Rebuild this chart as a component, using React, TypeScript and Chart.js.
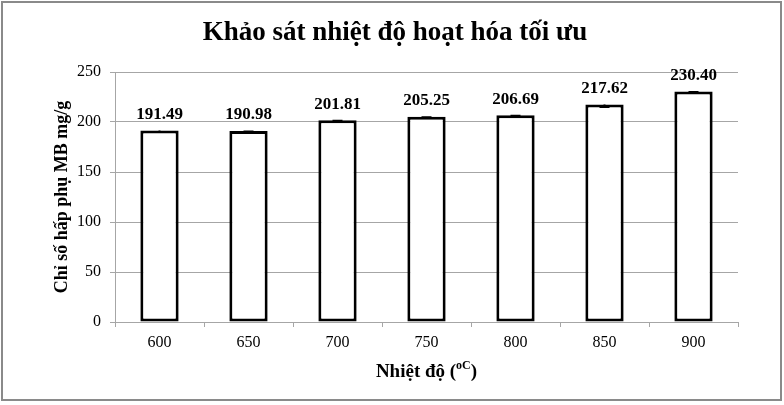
import React, { useEffect, useRef } from "react";
import { Chart, registerables } from "chart.js";

Chart.register(...registerables);

const categories = ["600", "650", "700", "750", "800", "850", "900"];
const values = [191.49, 190.98, 201.81, 205.25, 206.69, 217.62, 230.4];
const errors = [1.5, 0.5, 0.5, 0.5, 0.5, 2.5, 0.5];
const yMin = 0;
const yMax = 250;
const yStep = 50;
const titleText = "Khảo sát nhiệt độ hoạt hóa tối ưu";
const yTitle = "Chỉ số hấp phụ MB mg/g";
const xTitleMain = "Nhiệt độ (";
const xTitleSup = "oC";
const xTitleEnd = ")";

const SERIF = "'Liberation Serif', 'Times New Roman', serif";

export default function App() {
  const ref = useRef<HTMLCanvasElement | null>(null);

  useEffect(() => {
    if (!ref.current) return;

    const framePlugin = {
      id: "frame",
      beforeDraw(chart: any) {
        const ctx = chart.ctx;
        ctx.save();
        ctx.fillStyle = "#ffffff";
        ctx.fillRect(0, 0, chart.width, chart.height);
        ctx.restore();
      },
      afterDraw(chart: any) {
        const ctx = chart.ctx;
        ctx.save();
        ctx.strokeStyle = "#8a8a8a";
        ctx.lineWidth = 2;
        ctx.strokeRect(2, 2, chart.width - 5, chart.height - 7);
        const ca = chart.chartArea;
        const cx = (ca.left + ca.right) / 2;
        const cy = 370;
        const mainFont = `bold 19px ${SERIF}`;
        const supFont = `bold 12px ${SERIF}`;
        ctx.font = mainFont;
        const w1 = ctx.measureText(xTitleMain).width;
        const w3 = ctx.measureText(xTitleEnd).width;
        ctx.font = supFont;
        const w2 = ctx.measureText(xTitleSup).width;
        let x = cx - (w1 + w2 + w3) / 2;
        ctx.fillStyle = "#000";
        ctx.textBaseline = "alphabetic";
        ctx.textAlign = "left";
        ctx.font = mainFont;
        ctx.fillText(xTitleMain, x, cy + 7);
        x += w1;
        ctx.font = supFont;
        ctx.fillText(xTitleSup, x, cy - 1);
        x += w2;
        ctx.font = mainFont;
        ctx.fillText(xTitleEnd, x, cy + 7);
        ctx.restore();
      },
    };

    const barExtras = {
      id: "barExtras",
      afterDatasetsDraw(chart: any) {
        const ctx = chart.ctx;
        const meta = chart.getDatasetMeta(0);
        const yScale = chart.scales.y;
        ctx.save();
        ctx.strokeStyle = "#000";
        ctx.lineWidth = 2;
        meta.data.forEach((bar: any, i: number) => {
          const v = values[i];
          const e = errors[i];
          const yTop = yScale.getPixelForValue(v);
          const yBot = yScale.getPixelForValue(v - e);
          const x = bar.x;
          ctx.beginPath();
          ctx.moveTo(x, yTop);
          ctx.lineTo(x, yBot);
          ctx.moveTo(x - 5, yBot);
          ctx.lineTo(x + 5, yBot);
          ctx.stroke();
        });
        ctx.fillStyle = "#000";
        ctx.font = `bold 17px ${SERIF}`;
        ctx.textAlign = "center";
        ctx.textBaseline = "middle";
        meta.data.forEach((bar: any, i: number) => {
          ctx.fillText(values[i].toFixed(2), bar.x, bar.y - 16);
        });
        ctx.restore();
      },
    };

    const chart = new Chart(ref.current, {
      type: "bar",
      data: {
        labels: categories,
        datasets: [
          {
            data: values,
            backgroundColor: "#ffffff",
            borderColor: "#000000",
            borderWidth: 3,
            borderSkipped: false,
            barPercentage: 0.43,
            categoryPercentage: 1,
          },
        ],
      },
      options: {
        animation: false,
        responsive: false,
        maintainAspectRatio: false,
        devicePixelRatio: 1,
        layout: { padding: { left: 52, right: 46, top: 0, bottom: 0 } },
        plugins: {
          legend: { display: false },
          tooltip: { enabled: false },
          title: {
            display: true,
            text: titleText,
            color: "#000",
            font: { family: SERIF, size: 27, weight: "bold" },
            padding: { top: 17, bottom: 22.6 },
          },
        },
        scales: {
          x: {
            offset: true,
            grid: {
              offset: true,
              display: true,
              drawOnChartArea: false,
              drawTicks: true,
              tickLength: 5,
              color: "#a6a6a6",
            },
            border: { display: true, color: "#a6a6a6", width: 1 },
            ticks: {
              color: "#000",
              font: { family: SERIF, size: 16 },
              padding: 6,
              maxRotation: 0,
            },
            afterFit(scale: any) {
              scale.height = 83;
            },
          },
          y: {
            min: yMin,
            max: yMax,
            grid: {
              color: "#a6a6a6",
              drawTicks: true,
              tickLength: 5,
            },
            border: { display: true, color: "#a6a6a6", width: 1 },
            ticks: {
              stepSize: yStep,
              color: "#000",
              font: { family: SERIF, size: 16 },
              padding: 9,
            },
            title: {
              display: true,
              text: yTitle,
              color: "#000",
              font: { family: SERIF, size: 18, weight: "bold" },
              padding: { top: 0, bottom: 0 },
            },
            afterFit(scale: any) {
              scale.width = 63;
            },
          },
        },
      },
      plugins: [framePlugin, barExtras],
    });

    return () => chart.destroy();
  }, []);

  return (
    <div style={{ position: "absolute", left: 0, top: 0, width: 784, height: 405 }}>
      <canvas ref={ref} width={784} height={405} style={{ display: "block" }} />
    </div>
  );
}
